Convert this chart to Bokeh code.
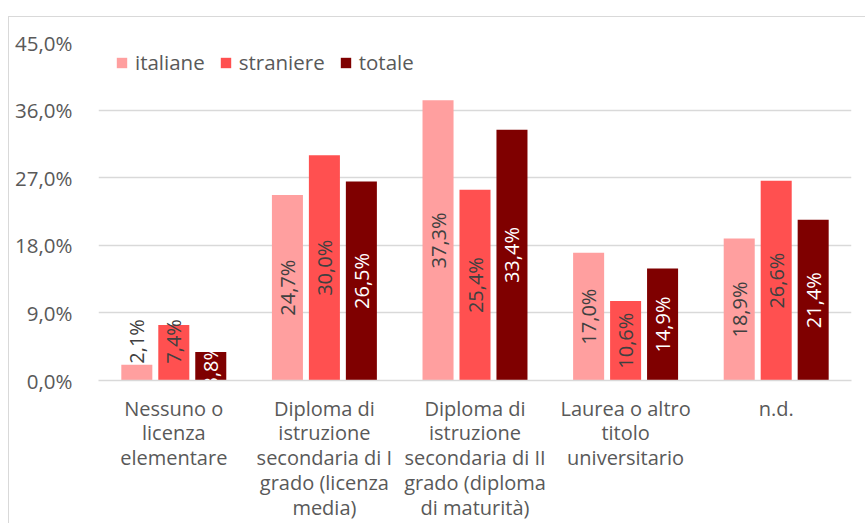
import math
from bokeh.plotting import figure
from bokeh.models import (ColumnDataSource, FactorRange, FixedTicker, Legend, LegendItem,
                          Label, Range1d)
from bokeh.transform import dodge
from bokeh.core.properties import value
from bokeh.embed import file_html
from bokeh.resources import INLINE

# ---------------- data ----------------
title_text = "Lombardia, anno 2024"
categories = [
    "Nessuno o\nlicenza\nelementare",
    "Diploma di\nistruzione\nsecondaria di I\ngrado (licenza\nmedia)",
    "Diploma di\nistruzione\nsecondaria di II\ngrado (diploma\ndi maturità)",
    "Laurea o altro\ntitolo\nuniversitario",
    "n.d.",
]
series_names = ["italiane", "straniere", "totale"]
italiane = [2.1, 24.7, 37.3, 17.0, 18.9]
straniere = [7.4, 30.0, 25.4, 10.6, 26.6]
totale = [3.8, 26.5, 33.4, 14.9, 21.4]
y_ticks = [0, 9, 18, 27, 36, 45]
y_tick_labels = ["0,0%", "9,0%", "18,0%", "27,0%", "36,0%", "45,0%"]

# ---------------- style ----------------
FONT = "Open Sans"
colors = ["#FF9F9F", "#FF5050", "#7F0000"]
label_colors = ["#404040", "#404040", "#FFFFFF"]
TXT = "#595959"
GRID = "#D9D9D9"
offsets = [-0.2455, 0.0, 0.2455]
bar_w = 0.206
min_label_center = [5.2, 5.2, 0.0]


def fmt(v):
    return f"{v:.1f}".replace(".", ",") + "%"


data = dict(cat=categories)
for name, vals, mn in zip(series_names, [italiane, straniere, totale], min_label_center):
    data[name] = vals
    data[name + "_lbl"] = [fmt(v) for v in vals]
    data[name + "_ly"] = [max(v / 2, mn) for v in vals]
src = ColumnDataSource(data)

# chart-area border (left and top edges) drawn as CSS background behind the transparent canvas
border_css = (
    f"linear-gradient({GRID},{GRID}) 8px 16px / 1px 100% no-repeat, "
    f"linear-gradient({GRID},{GRID}) 8px 16px / 100% 1px no-repeat, white"
)

p = figure(
    x_range=FactorRange(*categories, range_padding=0),
    y_range=Range1d(0, 45),
    width=865, height=523,
    min_border_left=98, min_border_right=14, min_border_top=42, min_border_bottom=142,
    output_backend="svg", toolbar_location=None,
    margin=(0, 0, 0, 0),
    styles={"background": border_css},
)
p.outline_line_color = None
p.background_fill_color = "white"
p.border_fill_color = None

items = []
for name, off, col, lcol in zip(series_names, offsets, colors, label_colors):
    r = p.vbar(x=dodge("cat", off, range=p.x_range), top=name, width=bar_w, source=src,
               fill_color=col, line_color=None)
    items.append(LegendItem(label=name, renderers=[r]))
    p.text(x=dodge("cat", off, range=p.x_range), y=name + "_ly", text=name + "_lbl", source=src,
           angle=math.pi / 2, text_align="center", text_baseline="middle",
           text_font=value(FONT), text_font_size="20px", text_color=lcol)

# axes
p.yaxis.ticker = FixedTicker(ticks=y_ticks)
p.yaxis.major_label_overrides = {t: l for t, l in zip(y_ticks, y_tick_labels)}
p.yaxis.axis_line_color = None
p.yaxis.major_tick_line_color = None
p.yaxis.minor_tick_line_color = None
p.yaxis.major_label_standoff = 20
p.yaxis.major_label_text_font = FONT
p.yaxis.major_label_text_font_size = "20.5px"
p.yaxis.major_label_text_color = TXT

p.xaxis.axis_line_color = GRID
p.xaxis.axis_line_width = 1.5
p.xaxis.major_tick_line_color = None
p.xaxis.major_tick_out = 0
p.xaxis.major_label_standoff = 14
p.xaxis.major_label_text_font = FONT
p.xaxis.major_label_text_font_size = "20px"
p.xaxis.major_label_text_color = TXT
p.xaxis.major_label_text_line_height = 0.92
p.xaxis.major_label_orientation = "horizontal"

p.xgrid.grid_line_color = None
p.ygrid.ticker = FixedTicker(ticks=y_ticks)
p.ygrid.grid_line_color = GRID
p.ygrid.grid_line_width = 1.5

legend = Legend(items=items, orientation="horizontal", location=(17, 304),
                glyph_width=13, glyph_height=13, label_standoff=7, spacing=14,
                label_text_font=FONT, label_text_font_size="20.5px", label_text_color=TXT,
                border_line_color=None, background_fill_alpha=0, padding=0, margin=0)
p.add_layout(legend)

# title (cut off at the top, as in the reference)
p.add_layout(Label(x=346, y=376, x_units="screen", y_units="screen", text=title_text,
                   text_font=FONT, text_font_size="21px", text_font_style="bold",
                   text_color="#000000", text_align="center", text_baseline="alphabetic"))

open("out.html", "w").write(file_html(p, INLINE))
